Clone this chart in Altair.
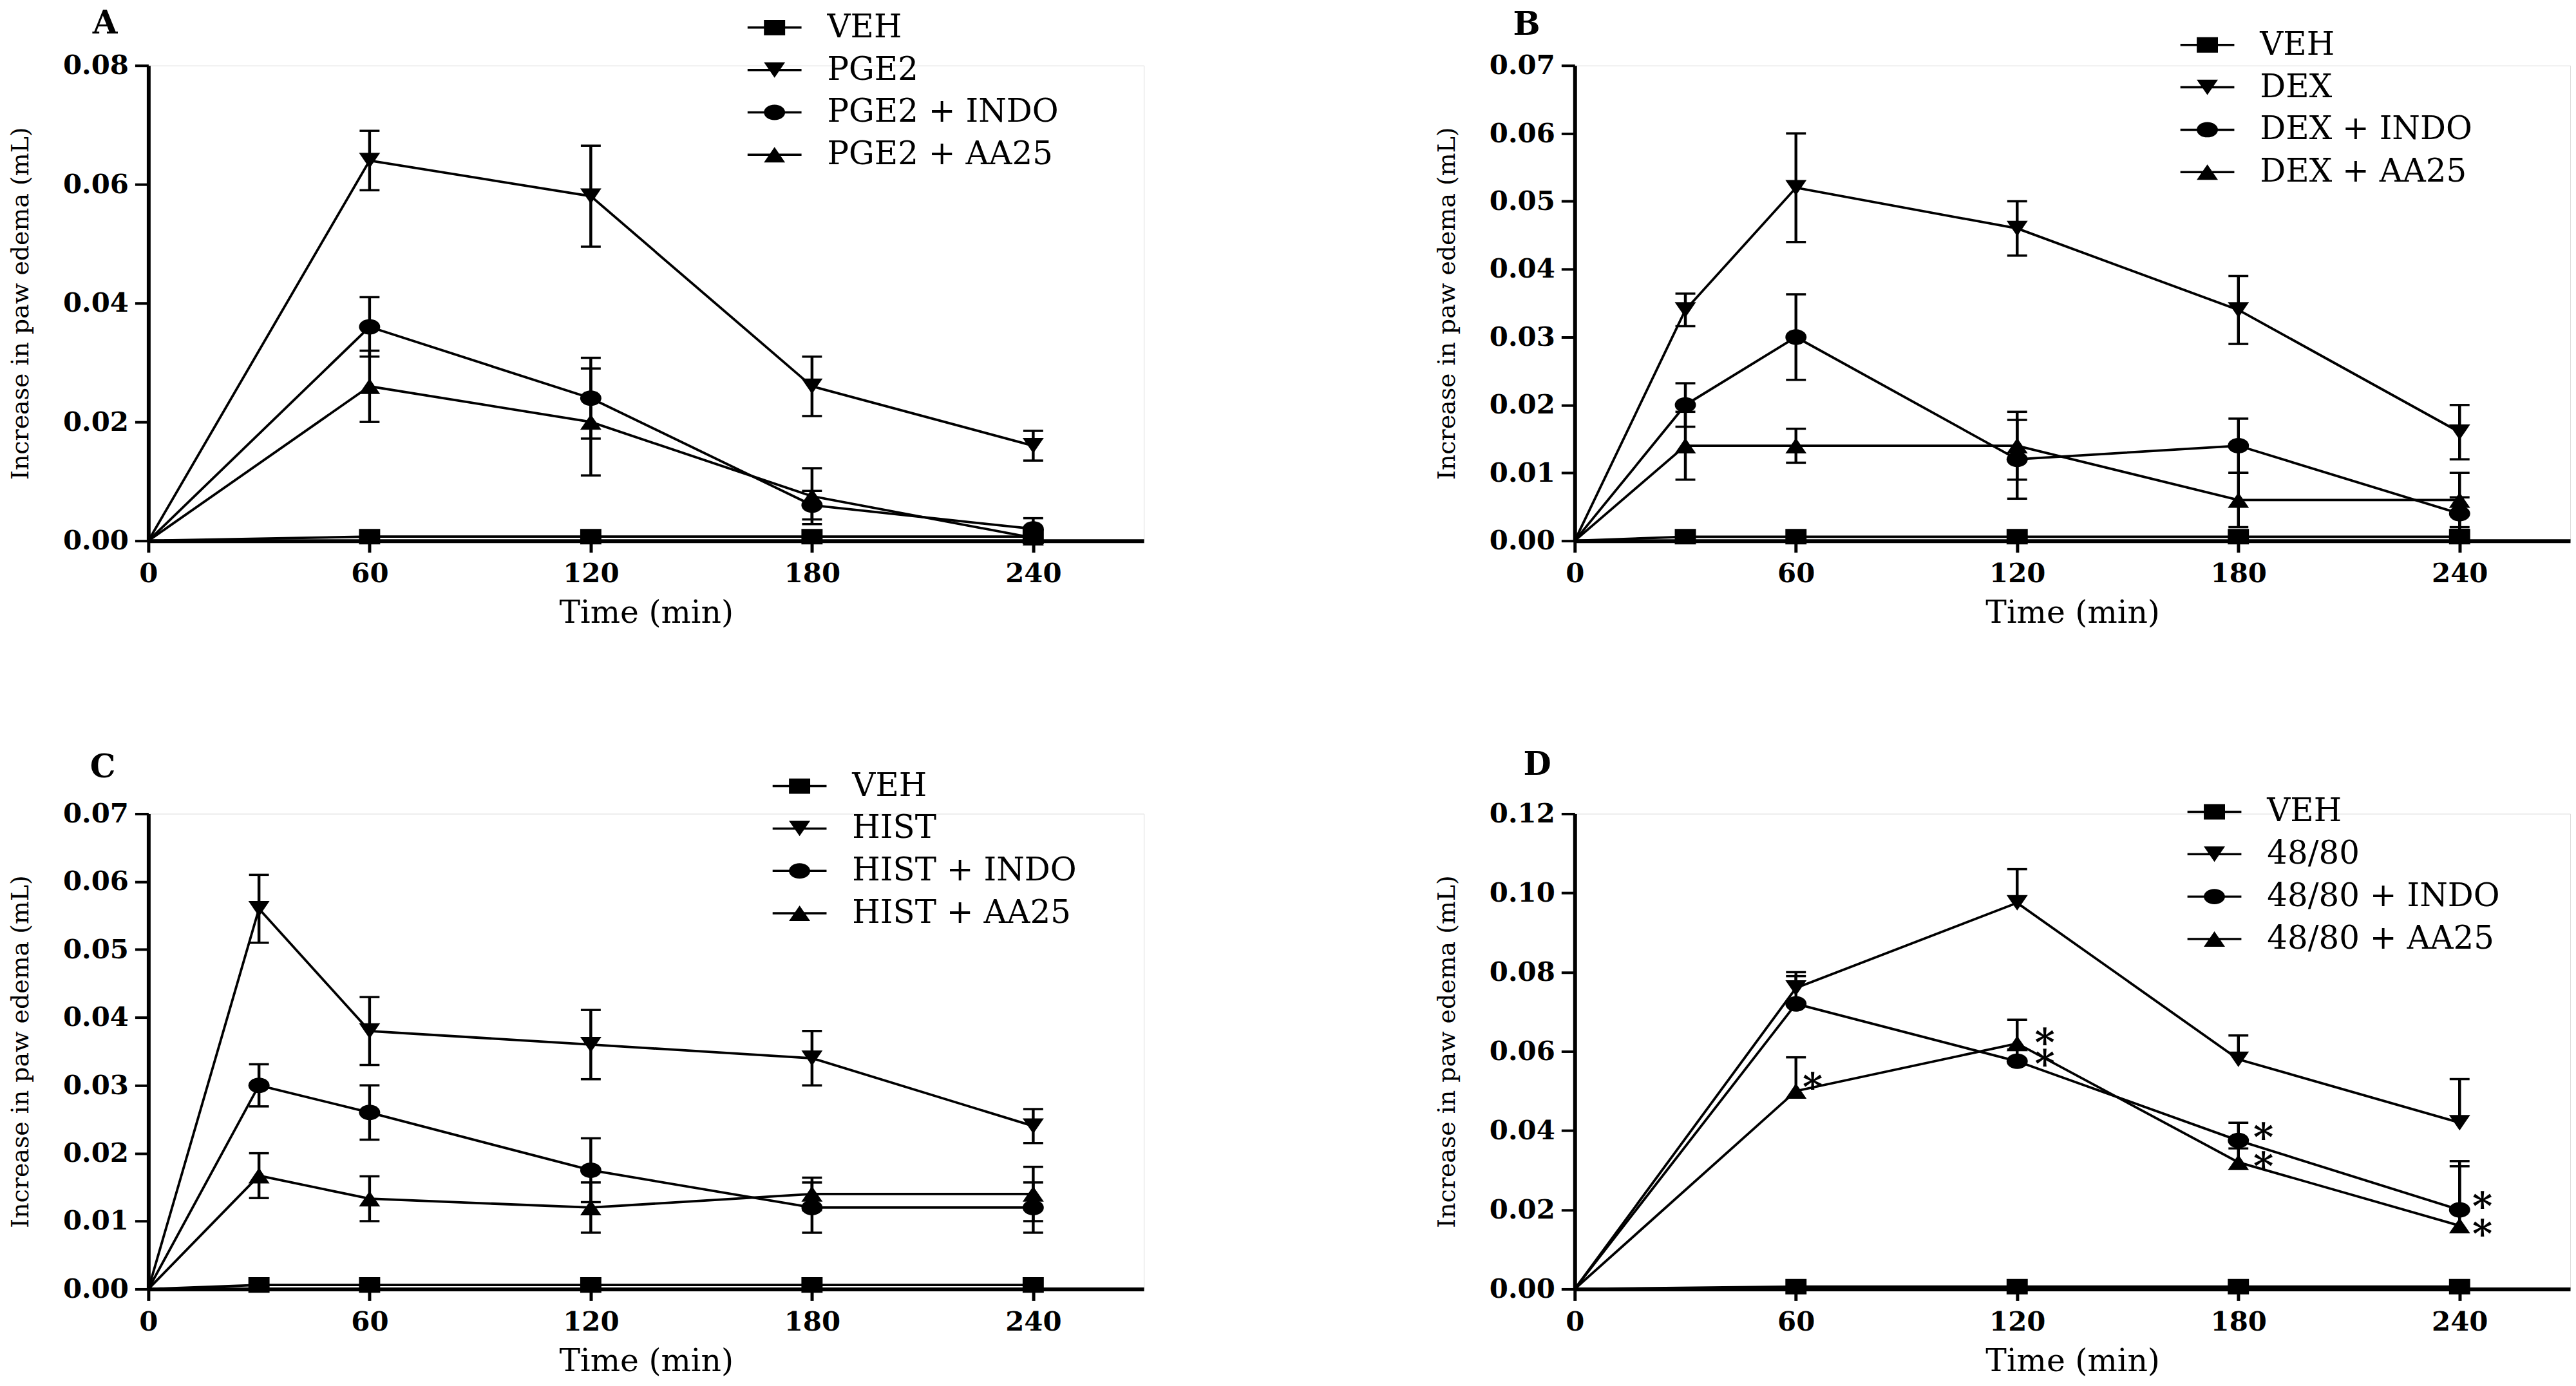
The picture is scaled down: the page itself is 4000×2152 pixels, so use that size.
import altair as alt
import pandas as pd

FONT = "DejaVu Serif"

# ---------------- data ----------------
# Panel A
a_time = [0, 60, 120, 180, 240]
a_names = ["VEH", "PGE2", "PGE2 + INDO", "PGE2 + AA25"]
a_veh = [0, 0.0007, 0.0007, 0.0007, 0.0007]
a_veh_sem = [0, 0.0003, 0.0003, 0.0003, 0.0003]
a_main = [0, 0.064, 0.058, 0.026, 0.016]
a_main_sem = [0, 0.005, 0.0085, 0.005, 0.0025]
a_indo = [0, 0.036, 0.024, 0.006, 0.002]
a_indo_sem = [0, 0.005, 0.0068, 0.0024, 0.0018]
a_aa25 = [0, 0.026, 0.020, 0.0075, 0.0005]
a_aa25_sem = [0, 0.006, 0.009, 0.0047, 0.0003]

# Panel B
b_time = [0, 30, 60, 120, 180, 240]
b_names = ["VEH", "DEX", "DEX + INDO", "DEX + AA25"]
b_veh = [0, 0.0006, 0.0006, 0.0006, 0.0006, 0.0006]
b_veh_sem = [0, 0.0003, 0.0003, 0.0003, 0.0003, 0.0003]
b_main = [0, 0.034, 0.052, 0.046, 0.034, 0.016]
b_main_sem = [0, 0.0024, 0.008, 0.004, 0.005, 0.004]
b_indo = [0, 0.020, 0.030, 0.012, 0.014, 0.004]
b_indo_sem = [0, 0.0032, 0.0063, 0.0058, 0.004, 0.0024]
b_aa25 = [0, 0.014, 0.014, 0.014, 0.006, 0.006]
b_aa25_sem = [0, 0.005, 0.0025, 0.005, 0.004, 0.004]

# Panel C
c_time = [0, 30, 60, 120, 180, 240]
c_names = ["VEH", "HIST", "HIST + INDO", "HIST + AA25"]
c_veh = [0, 0.0006, 0.0006, 0.0006, 0.0006, 0.0006]
c_veh_sem = [0, 0.0003, 0.0003, 0.0003, 0.0003, 0.0003]
c_main = [0, 0.056, 0.038, 0.036, 0.034, 0.024]
c_main_sem = [0, 0.005, 0.005, 0.0051, 0.004, 0.0025]
c_indo = [0, 0.030, 0.026, 0.0175, 0.012, 0.012]
c_indo_sem = [0, 0.0031, 0.004, 0.0047, 0.0037, 0.0037]
c_aa25 = [0, 0.0167, 0.0133, 0.012, 0.014, 0.014]
c_aa25_sem = [0, 0.0033, 0.0033, 0.0037, 0.0024, 0.004]

# Panel D (upper error bars only)
d_time = [0, 60, 120, 180, 240]
d_names = ["VEH", "48/80", "48/80 + INDO", "48/80 + AA25"]
d_veh = [0, 0.0006, 0.0006, 0.0006, 0.0006]
d_veh_sem = [0, 0.0003, 0.0003, 0.0003, 0.0003]
d_main = [0, 0.076, 0.0975, 0.058, 0.042]
d_main_sem = [0, 0.004, 0.0085, 0.006, 0.011]
d_indo = [0, 0.072, 0.0575, 0.0375, 0.020]
d_indo_sem = [0, 0.007, 0.003, 0.0045, 0.0123]
d_aa25 = [0, 0.050, 0.062, 0.032, 0.016]
d_aa25_sem = [0, 0.0085, 0.006, 0.0035, 0.015]

# significance marks in panel D
d_star_time = [64.5, 127.5, 127.5, 186.8, 186.8, 246.2, 246.2]
d_star_value = [0.0529, 0.0641, 0.0588, 0.0403, 0.0329, 0.0229, 0.0158]

# ---------------- marker shapes ----------------
SQ = "M-1,-0.73H1V0.73H-1Z"
TD = "M-1,-0.73L1,-0.73L0,0.73Z"
CI = "M-1,0A1,0.73 0 1,1 1,0A1,0.73 0 1,1 -1,0Z"
TU = "M0,-0.73L1,0.73L-1,0.73Z"
MARKERS = [SQ, TD, CI, TU]

LINE = "M-2,-0.083H2V0.083H-2Z "
LEG = [
    LINE + "M-0.786,-0.571H0.786V0.571H-0.786Z",
    LINE + "M-0.786,-0.571L0.786,-0.571L0,0.571Z",
    LINE + "M-0.786,0A0.786,0.571 0 1,1 0.786,0A0.786,0.571 0 1,1 -0.786,0Z",
    LINE + "M0,-0.571L0.786,0.571L-0.786,0.571Z",
]


def make_df(time, names, vals, sems, two_sided=True):
    rows = []
    for k, (name, v, s) in enumerate(zip(names, vals, sems)):
        for t, vv, ss in zip(time, v, s):
            rows.append({
                "time": t, "value": vv, "series": name, "k": k,
                "hi": vv + ss, "lo": (vv - ss) if two_sided else vv,
            })
    return pd.DataFrame(rows)


W, H = 1550, 740


def panel(df, names, letter, ymax, ystep, lx, ly, tdx, toff, two_sided=True, stars=None):
    nt = int(round(ymax / ystep))
    yvals = [round(i * ystep, 4) for i in range(nt + 1)]

    xaxis = alt.Axis(values=[0, 60, 120, 180, 240], format="d", title="Time (min)",
                     grid=False, domainColor="black", domainWidth=6, tickColor="black",
                     tickWidth=5, tickSize=18, labelFont=FONT, labelFontSize=42,
                     labelFontWeight="bold", labelColor="black", labelPadding=13,
                     labelFlush=False, labelOverlap=False, titleFont=FONT,
                     titleFontSize=49, titleFontWeight="normal", titleColor="black",
                     titlePadding=16)
    yaxis = alt.Axis(values=yvals, format=".2f", title="Increase in paw edema (mL)",
                     grid=False, domainColor="black", domainWidth=6, tickColor="black",
                     tickWidth=4, tickSize=21, labelFont=FONT, labelFontSize=42,
                     labelFontWeight="bold", labelColor="black", labelPadding=10,
                     labelFlush=False, labelOverlap=False, titleFont=FONT,
                     titleFontSize=38, titleFontWeight="normal", titleColor="black",
                     titlePadding=46)
    xs = alt.Scale(domain=[0, 270], nice=False, zero=False)
    ys = alt.Scale(domain=[0, ymax], nice=False)

    def X(f):
        return alt.X(f"{f}:Q", scale=xs, axis=xaxis)

    def Y(f):
        return alt.Y(f"{f}:Q", scale=ys, axis=yaxis)

    base = alt.Chart(df)
    pts = base.transform_filter("datum.time > 0")

    lines = base.mark_line(color="black", strokeWidth=3.8).encode(
        x=X("time"), y=Y("value"), detail="series:N")
    rules = pts.mark_rule(color="black", strokeWidth=4.5).encode(
        x=X("time"), y=Y("lo"), y2="hi:Q")
    caps_hi = pts.mark_tick(orient="horizontal", color="black", size=31,
                            thickness=3.5, opacity=1).encode(x=X("time"), y=Y("hi"))
    layers = [lines, rules, caps_hi]
    if two_sided:
        caps_lo = pts.mark_tick(orient="horizontal", color="black", size=31,
                                thickness=3.5, opacity=1).encode(x=X("time"), y=Y("lo"))
        layers.append(caps_lo)
    points = pts.mark_point(filled=True, color="black", opacity=1, size=1089,
                            strokeWidth=0).encode(
        x=X("time"), y=Y("value"),
        shape=alt.Shape("series:N", scale=alt.Scale(domain=names, range=MARKERS),
                        legend=None))
    layers.append(points)

    legend_layer = base.transform_filter("false").mark_point(
        filled=True, color="black", opacity=1).encode(
        shape=alt.Shape("series:N", scale=alt.Scale(domain=names, range=LEG),
                        legend=alt.Legend(title=None, orient="none", legendX=lx,
                                          legendY=ly, padding=0, labelFont=FONT,
                                          labelFontSize=50, labelColor="black",
                                          labelLimit=1000, symbolSize=1764,
                                          symbolFillColor="black",
                                          symbolStrokeWidth=0, symbolOpacity=1,
                                          labelOffset=57, rowPadding=16)))
    layers.append(legend_layer)

    if stars is not None:
        sdf = pd.DataFrame({"time": stars[0], "value": stars[1], "t": ["*"] * len(stars[0])})
        star_layer = alt.Chart(sdf).mark_text(
            font=FONT, fontSize=60, fontWeight="bold", color="black",
            align="center", baseline="middle", dy=15).encode(
            x=X("time"), y=Y("value"), text="t:N")
        layers.append(star_layer)

    return alt.layer(*layers).resolve_scale(shape="independent").properties(
        width=W, height=H,
        title=alt.TitleParams(text=letter, anchor="start", frame="group", dx=tdx,
                              offset=toff, font=FONT, fontSize=50,
                              fontWeight="bold", color="black"))


dfA = make_df(a_time, a_names, [a_veh, a_main, a_indo, a_aa25],
              [a_veh_sem, a_main_sem, a_indo_sem, a_aa25_sem])
dfB = make_df(b_time, b_names, [b_veh, b_main, b_indo, b_aa25],
              [b_veh_sem, b_main_sem, b_indo_sem, b_aa25_sem])
dfC = make_df(c_time, c_names, [c_veh, c_main, c_indo, c_aa25],
              [c_veh_sem, c_main_sem, c_indo_sem, c_aa25_sem])
dfD = make_df(d_time, d_names, [d_veh, d_main, d_indo, d_aa25],
              [d_veh_sem, d_main_sem, d_indo_sem, d_aa25_sem], two_sided=False)

pA = panel(dfA, a_names, "A", 0.08, 0.02, 950, -84, -87, -44)
pB = panel(dfB, b_names, "B", 0.07, 0.01, 960, -57, -96, -19)
pC = panel(dfC, c_names, "C", 0.07, 0.01, 989, -68, -91, -21)
pD = panel(dfD, d_names, "D", 0.12, 0.02, 971, -28, -80, 23, two_sided=False,
           stars=(d_star_time, d_star_value))

chart = alt.vconcat(
    alt.hconcat(pA, pB, spacing=452),
    alt.hconcat(pC, pD, spacing=452),
    spacing=185,
).properties(padding={"left": 5, "top": 0, "right": 0, "bottom": 0}
             ).configure_view(stroke=None).configure(font=FONT)

chart.save("out.html", embed_options={"renderer": "svg", "actions": False})
